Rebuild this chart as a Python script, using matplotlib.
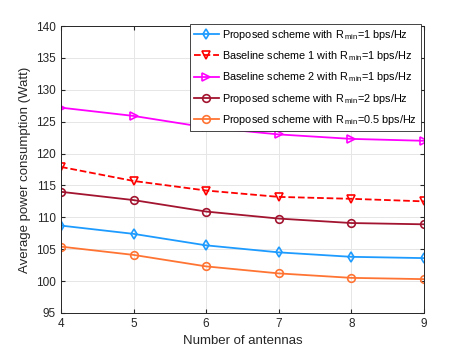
import matplotlib
matplotlib.use("Agg")
import matplotlib.pyplot as plt

plt.rcParams["font.family"] = ["Liberation Sans", "DejaVu Sans"]
plt.rcParams["mathtext.fontset"] = "custom"
plt.rcParams["mathtext.rm"] = "Liberation Sans"
plt.rcParams["mathtext.it"] = "Liberation Sans:italic"

antennas = [4, 5, 6, 7, 8, 9]
proposed_r1 = [108.7, 107.4, 105.6, 104.5, 103.8, 103.6]
baseline1_r1 = [117.9, 115.7, 114.2, 113.2, 112.9, 112.5]
baseline2_r1 = [127.2, 125.9, 124.1, 123.0, 122.3, 122.0]
proposed_r2 = [114.0, 112.7, 110.9, 109.8, 109.1, 108.9]
proposed_r05 = [105.4, 104.1, 102.3, 101.2, 100.5, 100.3]

labels = [
    r"Proposed scheme with R$\,_{\rm min}$=1 bps/Hz",
    r"Baseline scheme 1 with R$\,_{\rm min}$=1 bps/Hz",
    r"Baseline scheme 2 with R$\,_{\rm min}$=1 bps/Hz",
    r"Proposed scheme with R$\,_{\rm min}$=2 bps/Hz",
    r"Proposed scheme with R$\,_{\rm min}$=0.5 bps/Hz",
]

fig = plt.figure(figsize=(4.69, 3.52), dpi=100)
ax = fig.add_axes([0.130, 0.111, 0.774, 0.815])

mk = dict(markersize=5.5, markerfacecolor="none", markeredgewidth=1.2, linewidth=1.3)
ax.plot(antennas, proposed_r1, "-d", color="#1E9BFF", label=labels[0], **mk)
ax.plot(antennas, baseline1_r1, "--v", color="#FF0000", label=labels[1], **mk)
ax.plot(antennas, baseline2_r1, "->", color="#FF00FF", label=labels[2], **mk)
ax.plot(antennas, proposed_r2, "-o", color="#A2142F", label=labels[3], **mk)
ax.plot(antennas, proposed_r05, "-o", color="#FF7433", label=labels[4], **mk)

ax.set_xlim(4, 9)
ax.set_ylim(95, 140)
ax.set_xticks(antennas)
ax.set_yticks(range(95, 141, 5))
ax.grid(True, color="#E6E6E6", linewidth=0.7)
ax.set_axisbelow(True)
ax.tick_params(direction="in", top=True, right=True, labelsize=8.5, colors="#262626", length=3)
for s in ax.spines.values():
    s.set_color("#262626")
    s.set_linewidth(0.7)
ax.set_xlabel("Number of antennas", fontsize=9.5, color="#262626")
ax.set_ylabel("Average power consumption (Watt)", fontsize=9.5, color="#262626")

leg = ax.legend(loc="upper right", bbox_to_anchor=(0.897, 0.932), bbox_transform=fig.transFigure,
                fontsize=7.8, fancybox=False, framealpha=1, edgecolor="#262626",
                borderpad=0.35, labelspacing=0.68, handlelength=2.3, handletextpad=0.3,
                borderaxespad=0)
leg.get_frame().set_linewidth(0.6)

fig.savefig("out.png", dpi=100)
